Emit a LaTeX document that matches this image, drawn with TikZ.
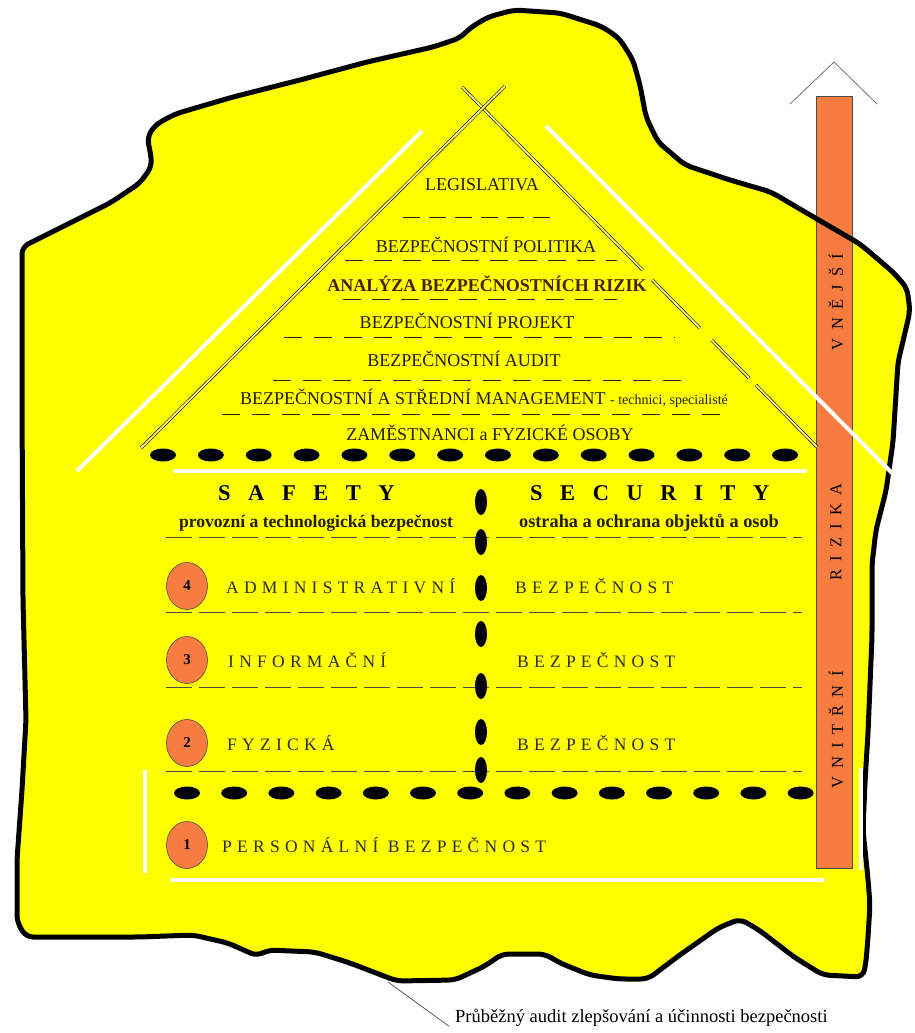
\documentclass[tikz,border=0pt]{standalone}
\usepackage{fontspec}
\usetikzlibrary{shapes.geometric}
\setmainfont{Liberation Serif}
\newfontfamily\rowfont[LetterSpace=30]{Liberation Serif}
\newfontfamily\headfont[LetterSpace=78]{Liberation Serif}
\newfontfamily\barfont[LetterSpace=50]{Liberation Serif}
\definecolor{blobyellow}{RGB}{255,255,0}
\definecolor{rorange}{RGB}{246,124,64}
\definecolor{darktext}{RGB}{35,30,0}
\definecolor{brownbold}{RGB}{70,35,0}
\definecolor{rowgray}{RGB}{45,45,30}
\begin{document}
\begin{tikzpicture}[x=1pt,y=-1pt,
  roof/.style={font=\fontsize{18}{20}\selectfont, text=darktext, inner sep=0pt, anchor=base},
  rowtxt/.style={font=\rowfont\fontsize{17.5}{20}\selectfont, text=rowgray, inner sep=0pt, anchor=base west},
  headtxt/.style={font=\headfont\bfseries\fontsize{22.5}{24}\selectfont, text=black, inner sep=0pt, anchor=base west},
  subtxt/.style={font=\bfseries\fontsize{17.6}{19}\selectfont, text=darktext, inner sep=0pt, anchor=base},
  bartxt/.style={font=\barfont\fontsize{16.5}{18}\selectfont, text=black, inner sep=0pt, rotate=90},
  numdisc/.style={ellipse, draw=black!70, line width=0.6pt, fill=rorange, minimum width=41pt, minimum height=47pt, inner sep=0pt, font=\bfseries\fontsize{15}{17}\selectfont},
  whiteln/.style={white, line width=4pt, line cap=round},
  roofdash/.style={black!85, line width=0.9pt, dash pattern=on 17pt off 9pt},
  rowdash/.style={black!70, line width=1pt, dash pattern=on 26pt off 7pt},
  rail/.style={line width=0.6pt, double=yellow!50!white, double distance=1.8pt},
  bigdot/.style={fill=black},
]
\useasboundingbox (0,0) rectangle (915,1033);
\fill[white] (0,0) rectangle (915,1033);

% blob
\def\blobpath{[rounded corners=7pt]
 (22,247) -- (50,233) -- (110,203) -- (140,183) -- (152,166) -- (150,150) -- (147,138) -- (155,125) -- (175,114)
 -- (233,97) -- (300,80) -- (367,62) -- (433,47) -- (460,38) -- (470,28) -- (488,17) -- (514,10) -- (560,13)
 -- (601,26) -- (619,38) -- (633,60) -- (640,85) -- (646,117) -- (658,142) -- (685,165) -- (730,180)
 -- (771,192) -- (817,219) -- (860,244) -- (893,272) -- (907,288) -- (910,311) -- (904,337) -- (898,362)
 -- (896,394) -- (893,442) -- (886,491) -- (876,530) -- (872,564) -- (872,636) -- (870,685) -- (868,733)
 -- (865,782) -- (863,830) -- (868,879) -- (870,905) -- (868,937) -- (866,962) -- (863,977)
 -- (823,975) -- (794,957) -- (759,930) -- (740,919) -- (718,928) -- (677,957) -- (648,979) -- (619,979)
 -- (590,975) -- (560,963) -- (545,954) -- (502,954) -- (485,966) -- (455,980) -- (397,981) -- (350,963)
 -- (315,952) -- (268,950) -- (257,956) -- (228,943) -- (193,935) -- (140,937) -- (26,937)
 -- (17,922) -- (17,860) -- (22,790) -- (26,720) -- (23,600) -- (22,400) -- cycle}
\fill[blobyellow] \blobpath;

% risk bar
\node[draw=black!70, line width=0.6pt, fill=rorange, minimum width=36pt, minimum height=772pt, inner sep=0pt] (bar) at (834,482) {};
\draw[black!55, line width=0.8pt] (790,104) -- (834,62) -- (877,104);
\node[bartxt] (vni) at (836,730) {VNITŘNÍ};
\node[bartxt] (riz) at (836,532) {RIZIKA};
\node[bartxt] (vne) at (836,302) {VNĚJŠÍ};

\draw[black, line width=5pt, line join=round] \blobpath;

% roof
\draw[whiteln] (421,132) -- (78,470);
\draw[whiteln] (547,127) -- (893,474);
\draw[rail] (462,87) -- (642.5,270);
\draw[rail] (652.3,280) -- (699.7,328);
\draw[rail] (711.5,340) -- (749,378);
\draw[rail] (755.9,385) -- (817,447);
\draw[rail] (505,86) -- (141,448);

\node[roof] (legis) at (482,190) {LEGISLATIVA};
\draw[roofdash] (403,217) -- (555,217);
\node[roof] (polit) at (486,252) {BEZPEČNOSTNÍ POLITIKA};
\draw[roofdash, dash pattern=on 18pt off 11pt] (345,260) -- (617,260);
\node[roof, font=\bfseries\fontsize{18}{20}\selectfont, text=brownbold] (anal) at (487,291) {ANALÝZA BEZPEČNOSTNÍCH RIZIK};
\draw[roofdash, dash pattern=on 18pt off 11pt] (343,299) -- (617,299);
\node[roof] (proj) at (467,328) {BEZPEČNOSTNÍ PROJEKT};
\draw[roofdash, dash pattern=on 18pt off 12pt] (284,337) -- (675,337);
\node[roof] (audit) at (464,366) {BEZPEČNOSTNÍ AUDIT};
\draw[roofdash, dash pattern=on 18pt off 12pt] (273,380) -- (690,380);
\node[roof] (mgmt) at (484,404) {BEZPEČNOSTNÍ A STŘEDNÍ MANAGEMENT {\fontsize{14}{16}\selectfont - technici, specialisté}};
\draw[roofdash, dash pattern=on 18pt off 12pt] (222,414) -- (724,414);
\node[roof] (zam) at (490,440) {ZAMĚSTNANCI a FYZICKÉ OSOBY};

\foreach \i in {0,...,13} \fill[bigdot] ({163+47.85*\i},455) ellipse [x radius=13pt, y radius=6.5pt];
\draw[whiteln] (175,471) -- (805,471);

% lower section
\node[headtxt] (safety) at (218,500) {SAFETY};
\node[headtxt] (security) at (530,500) {SECURITY};
\node[subtxt] (prov) at (316,527) {provozní a technologická bezpečnost};
\node[subtxt, font=\bfseries\fontsize{18.3}{19}\selectfont] (ostr) at (649,527) {ostraha a ochrana objektů a osob};

\foreach \y in {537,612,687,771} \draw[rowdash] (166,\y) -- (802,\y);
\foreach \y in {502,542,588,634,686,732,770} \fill[bigdot] (481,\y) ellipse [x radius=6pt, y radius=13pt];

\node[numdisc] (n4) at (187,586) {4};
\node[rowtxt] (admin) at (226,593) {ADMINISTRATIVNÍ};
\node[rowtxt] (bez4) at (515,593) {BEZPEČNOST};
\node[numdisc] (n3) at (187,660) {3};
\node[rowtxt] (info) at (228,667) {INFORMAČNÍ};
\node[rowtxt] (bez3) at (517,667) {BEZPEČNOST};
\node[numdisc] (n2) at (187,743) {2};
\node[rowtxt] (fyz) at (227,750) {FYZICKÁ};
\node[rowtxt] (bez2) at (517,750) {BEZPEČNOST};

\foreach \i in {0,...,13} \fill[bigdot] ({187+47.2*\i},793) ellipse [x radius=13pt, y radius=6.5pt];

\node[numdisc] (n1) at (187,845) {1};
\node[rowtxt] (pers) at (222,852) {PERSONÁLNÍ BEZPEČNOST};

\draw[whiteln, line cap=butt] (145,770) -- (145,873);
\draw[whiteln, line cap=butt] (861,768) -- (861,870);
\draw[whiteln] (172,880) -- (823,880);

% audit note
\coordinate (leadstart) at (388,982);
\node[font=\fontsize{18.5}{20}\selectfont, inner sep=0pt, anchor=base west] (note) at (455,1022) {Průběžný audit zlepšování a účinnosti bezpečnosti};
\draw[black!70, line width=0.7pt] (leadstart) -- ([xshift=-6pt]note.south west);
\end{tikzpicture}
\end{document}
